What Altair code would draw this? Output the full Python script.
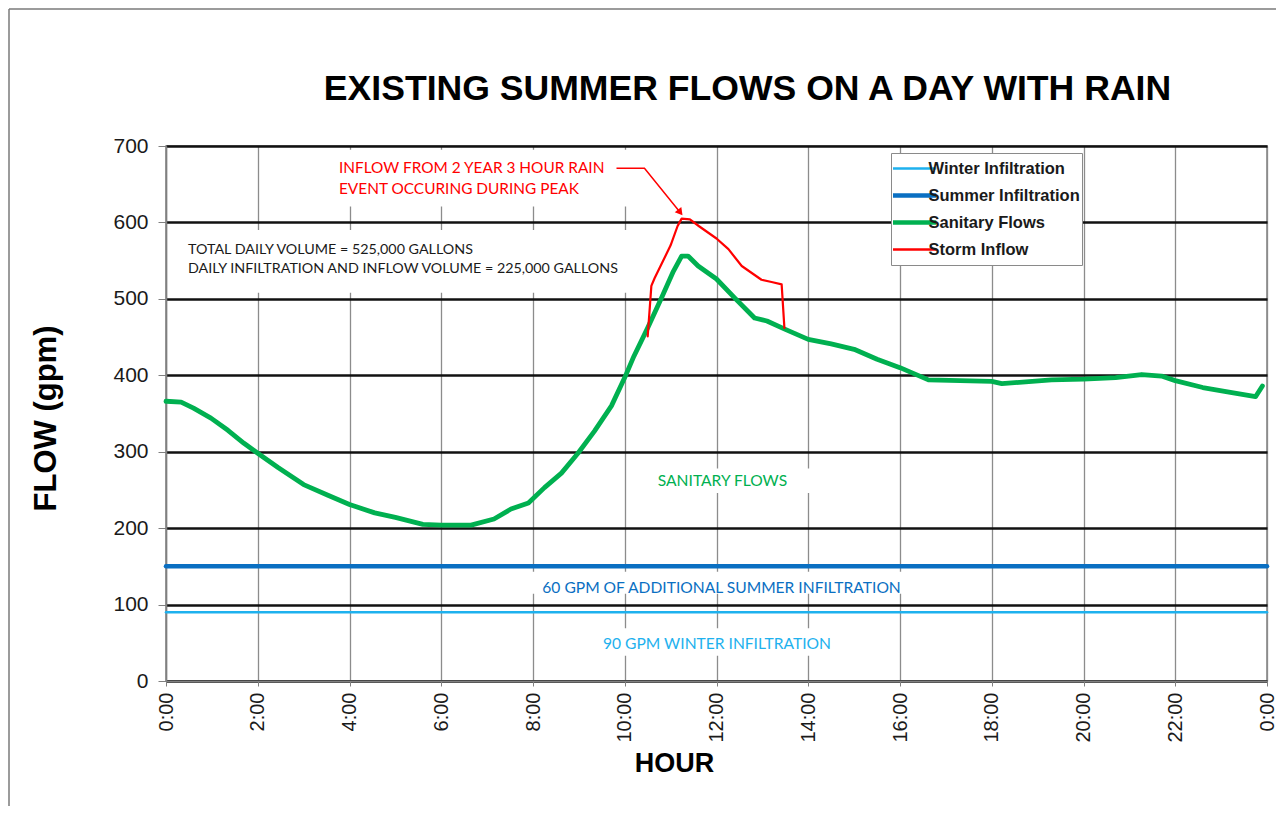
import altair as alt
import pandas as pd

TITLE = "EXISTING SUMMER FLOWS ON A DAY WITH RAIN"

SERIES = ["Winter Infiltration", "Summer Infiltration", "Sanitary Flows", "Storm Inflow"]
COLORS = ["#1EB1EE", "#0A6FC2", "#00B050", "#FF0000"]
WIDTHS = [2.5, 4.5, 4.8, 2.2]

WINTER_HOUR = [0, 24]
WINTER_FLOW = [90, 90]
SUMMER_HOUR = [0, 24]
SUMMER_FLOW = [150, 150]

SAN_HOUR = [0.0, 0.33, 0.6, 0.98, 1.35, 1.7, 2.0, 2.45, 3.0, 3.53, 4.0, 4.55, 5.0, 5.6,
            6.0, 6.65, 7.15, 7.52, 7.9, 8.25, 8.62, 8.98, 9.34, 9.71, 10.0, 10.2, 10.5,
            10.8, 11.06, 11.24, 11.38, 11.6, 12.0, 12.4, 12.83, 13.1, 13.5, 14.0, 14.5,
            15.0, 15.5, 16.0, 16.62, 18.0, 18.22, 19.3, 20.0, 20.7, 21.27, 21.7, 22.0,
            22.6, 23.17, 23.75, 23.9]
SAN_FLOW = [366, 365, 357, 344, 328, 311, 298, 279, 257, 243, 231, 220, 214, 205,
            204, 204, 212, 225, 233, 253, 272, 298, 327, 360, 397, 425, 462,
            501, 536, 556, 556, 543, 526, 501, 475, 471, 460, 447, 441,
            434, 421, 410, 394, 392, 389, 394, 395, 397, 401, 399, 393,
            384, 378, 372, 386]

STORM_HOUR = [10.5, 10.58, 10.65, 11.0, 11.15, 11.24, 11.42, 11.62, 12.0, 12.26, 12.55,
              12.98, 13.2, 13.42, 13.48]
STORM_FLOW = [451, 517, 527, 570, 595, 605, 604, 595, 579, 565, 543,
              525, 522, 519, 462]

X_TICKS = list(range(0, 25, 2))
Y_TICKS = list(range(0, 701, 100))

# annotation texts
RED_TEXT = ["INFLOW FROM 2 YEAR 3 HOUR RAIN", "EVENT OCCURING DURING PEAK"]
RED_HOUR = [3.77, 3.77]
RED_FLOW = [671, 644]

BLACK_TEXT = ["TOTAL DAILY VOLUME = 525,000 GALLONS",
              "DAILY INFILTRATION AND INFLOW VOLUME = 225,000 GALLONS"]
BLACK_HOUR = [0.48, 0.48]
BLACK_FLOW = [564, 539]

CENTER_TEXT = ["SANITARY FLOWS", "60 GPM OF ADDITIONAL SUMMER INFILTRATION",
               "90 GPM WINTER INFILTRATION"]
CENTER_HOUR = [12.13, 12.11, 12.01]
CENTER_FLOW = [262, 122, 48]
CENTER_COLOR = ["#00B050", "#0A6FC2", "#1EB1EE"]

# white label backgrounds
BOX_H1 = [3.6, 0.33, 11.58, 7.85, 9.38]
BOX_H2 = [10.36, 10.15, 14.7, 16.15, 14.64]
BOX_F1 = [621, 508, 246, 114, 33]
BOX_F2 = [695, 590, 278, 143, 69]

# arrow pointing to peak of storm inflow
ARROW_HOUR = [9.82, 10.43, 11.21]
ARROW_FLOW = [671, 671, 613]

FONT = "Liberation Sans"
ANN_FONT = "Lato"


def xenc(field="hour"):
    return alt.X(f"{field}:Q",
                 scale=alt.Scale(domain=[0, 24], nice=False, zero=False),
                 axis=alt.Axis(values=X_TICKS, labelExpr="(datum.value % 24) + ':00'",
                               labelAngle=270, labelFontSize=20, labelFont=FONT,
                               labelColor="#1a1a1a", labelPadding=6, tickSize=5,
                               tickColor="#808080", domainColor="#808080", domainWidth=1.5,
                               gridColor="#8c8c8c", gridWidth=1.3, title="HOUR",
                               titleFont=FONT, titleFontSize=27, titleFontWeight="bold",
                               titleColor="black", titleX=508, titleY=82,
                               titleBaseline="middle", titleAlign="center"))


def yenc(field="flow"):
    return alt.Y(f"{field}:Q",
                 scale=alt.Scale(domain=[0, 700], nice=False),
                 axis=alt.Axis(values=Y_TICKS, labelFontSize=21, labelFont=FONT,
                               labelColor="#1a1a1a", labelPadding=10, tickSize=8,
                               tickColor="#808080", domainColor="#808080", domainWidth=1.5,
                               gridColor="#111111", gridWidth=2.5, title="FLOW (gpm)",
                               titleFont=FONT, titleFontSize=31, titleFontWeight="bold",
                               titleColor="black", titleX=-120, titleY=272, titleAngle=270,
                               titleBaseline="middle", titleAlign="center"))


rows = []
for s, w, hs, fs in [(SERIES[0], WIDTHS[0], WINTER_HOUR, WINTER_FLOW),
                     (SERIES[1], WIDTHS[1], SUMMER_HOUR, SUMMER_FLOW),
                     (SERIES[2], WIDTHS[2], SAN_HOUR, SAN_FLOW),
                     (SERIES[3], WIDTHS[3], STORM_HOUR, STORM_FLOW)]:
    for h, f in zip(hs, fs):
        rows.append({"series": s, "w": w, "hour": h, "flow": f})
lines_df = pd.DataFrame(rows)

box_df = pd.DataFrame({"hour": BOX_H1, "hour2": BOX_H2, "flow": BOX_F1, "flow2": BOX_F2})
boxes = alt.Chart(box_df).mark_rect(color="white").encode(
    x=xenc(), x2="hour2:Q", y=yenc(), y2="flow2:Q")

legend = alt.Legend(
    title=None, orient="none", legendX=725, legendY=7, symbolType="stroke",
    symbolSize=4900, clipHeight=27, padding=2, rowPadding=0, labelOffset=19,
    labelFont=FONT, labelFontSize=16.5, labelFontWeight="bold", labelColor="#1a1a1a",
    strokeColor="#8a8a8a", fillColor="white",
    symbolStrokeWidth=alt.expr(
        "indexof(['Summer Infiltration','Sanitary Flows'], datum.value) >= 0 ? 4.5 : 2.5"),
)

lines = alt.Chart(lines_df).mark_line(strokeCap="round", strokeJoin="round").encode(
    x=xenc(), y=yenc(),
    color=alt.Color("series:N", scale=alt.Scale(domain=SERIES, range=COLORS), legend=legend),
    strokeWidth=alt.StrokeWidth("w:Q", scale=None),
)

red_df = pd.DataFrame({"hour": RED_HOUR, "flow": RED_FLOW, "text": RED_TEXT})
red_text = alt.Chart(red_df).mark_text(align="left", baseline="middle", font=ANN_FONT,
                                       fontSize=15.4, color="#FF0000").encode(
    x=xenc(), y=yenc(), text="text:N")

black_df = pd.DataFrame({"hour": BLACK_HOUR, "flow": BLACK_FLOW, "text": BLACK_TEXT})
black_text = alt.Chart(black_df).mark_text(align="left", baseline="middle", font=ANN_FONT,
                                           fontSize=14.3, color="#1a1a1a").encode(
    x=xenc(), y=yenc(), text="text:N")

center_df = pd.DataFrame({"hour": CENTER_HOUR, "flow": CENTER_FLOW, "text": CENTER_TEXT,
                          "c": CENTER_COLOR})
center_text = alt.Chart(center_df).mark_text(align="center", baseline="middle", font=ANN_FONT,
                                             fontSize=15.6).encode(
    x=xenc(), y=yenc(), text="text:N", color=alt.Color("c:N", scale=None))

arrow_df = pd.DataFrame({"hour": ARROW_HOUR, "flow": ARROW_FLOW, "i": [0, 1, 2]})
arrow = alt.Chart(arrow_df).mark_line(color="#FF0000", strokeWidth=1.5).encode(
    x=xenc(), y=yenc(), order="i:Q")
arrow_head = alt.Chart(arrow_df.tail(1)).mark_point(
    shape="triangle-up", filled=True, color="#FF0000", size=70, angle=142, opacity=1).encode(
    x=xenc(), y=yenc())

one = pd.DataFrame({"t": [TITLE]})
title = alt.Chart(one).mark_text(font=FONT, fontSize=35.6, fontWeight="bold", color="black",
                                 align="center", baseline="middle").encode(
    text="t:N", x=alt.value(581.5), y=alt.value(-57))

frame_top = alt.Chart(one).mark_rule(color="#7a7a7a", strokeWidth=1.5).encode(
    x=alt.value(-157), x2=alt.value(1110), y=alt.value(-137))
frame_left = alt.Chart(one).mark_rule(color="#7a7a7a", strokeWidth=1.5).encode(
    x=alt.value(-157), y=alt.value(-137), y2=alt.value(660))

chart = alt.layer(
    boxes, lines, arrow, arrow_head, red_text, black_text, center_text, title,
    frame_top, frame_left
).properties(
    width=1101, height=535, padding=0, background="white"
).configure_view(stroke="#808080", strokeWidth=1.5)

chart.save("out.html", embed_options={"renderer": "svg", "actions": False})
